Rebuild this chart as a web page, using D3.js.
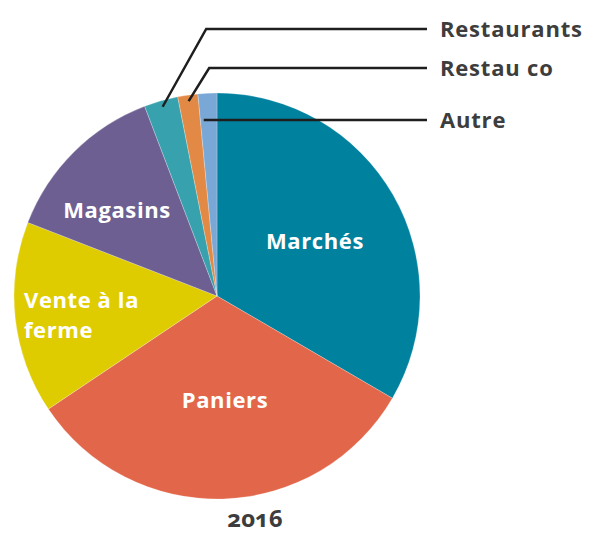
<!DOCTYPE html>
<meta charset="utf-8">
<script src="https://d3js.org/d3.v7.min.js"></script>
<style>
  body { margin: 0; background: #fff; }
  text { font-family: "Open Sans", sans-serif; font-weight: 700; }
</style>
<div id="my_dataviz"></div>
<script>
  // data (percent of sales)
  var categories = ["Marchés", "Paniers", "Vente à la ferme", "Magasins", "Restaurants", "Restau co", "Autre"];
  var values = [33.4, 32.2, 15.3, 13.3, 2.7, 1.6, 1.5];
  var colors = ["#00829f", "#e2674a", "#dfcc00", "#6d5f91", "#37a1ae", "#e28a45", "#7aa8d6"];
  var year = "2016";

  var width = 603, height = 535;
  var cx = 217, cy = 296, radius = 203;

  var svg = d3.select("#my_dataviz")
    .append("svg")
    .attr("width", width)
    .attr("height", height);

  var g = svg.append("g")
    .attr("transform", "translate(" + cx + "," + cy + ")");

  var data = categories.map(function (c, i) { return { key: c, value: values[i], color: colors[i] }; });

  var pie = d3.pie().sort(null).value(function (d) { return d.value; });
  var data_ready = pie(data);

  var arc = d3.arc().innerRadius(0).outerRadius(radius);

  g.selectAll("path")
    .data(data_ready)
    .enter()
    .append("path")
    .attr("d", arc)
    .attr("fill", function (d) { return d.data.color; })
    .attr("stroke", "#ffffff")
    .attr("stroke-opacity", 0.4)
    .attr("stroke-width", 0.6);

  // inside labels (lines, offset from centre)
  var inside = {
    "Marchés": { lines: ["Marchés"], x: 98, y: -55, anchor: "middle" },
    "Paniers": { lines: ["Paniers"], x: 8, y: 104, anchor: "middle" },
    "Vente à la ferme": { lines: ["Vente à la", "ferme"], x: -193, y: 4, anchor: "start" },
    "Magasins": { lines: ["Magasins"], x: -100, y: -86, anchor: "middle" }
  };

  data_ready.forEach(function (d) {
    var lab = inside[d.data.key];
    if (!lab) return;
    var t = g.append("text")
      .attr("fill", "#fff")
      .attr("font-size", 22)
      .attr("letter-spacing", 0.6)
      .attr("text-anchor", lab.anchor);
    lab.lines.forEach(function (ln, i) {
      t.append("tspan")
        .attr("x", lab.x)
        .attr("y", lab.y + i * 30 + 8)
        .text(ln);
    });
  });

  // outside labels with leader lines
  var labelX = 440, lineEnd = 427;
  var outside = { "Restaurants": 29, "Restau co": 68, "Autre": 120 };
  var inner = d3.arc().innerRadius(radius * 0.97).outerRadius(radius * 0.97);

  data_ready.forEach(function (d) {
    var ly = outside[d.data.key];
    if (ly === undefined) return;
    var p = inner.centroid(d);
    var ax = p[0] + cx, ay = p[1] + cy;
    var pts;
    if (d.data.key === "Autre") {
      pts = [[ax - 4, ly], [lineEnd, ly]];
    } else {
      // diagonal rises to the label row, then runs right
      var bx = ax + (ay - ly) * (d.data.key === "Restaurants" ? 0.56 : 0.62);
      pts = [[ax, ay], [bx, ly], [lineEnd, ly]];
    }
    svg.append("polyline")
      .attr("points", pts.map(function (q) { return q.join(","); }).join(" "))
      .attr("fill", "none")
      .attr("stroke", "#1e1e1e")
      .attr("stroke-width", 2.5);
    svg.append("text")
      .attr("x", labelX)
      .attr("y", ly + 8)
      .attr("fill", "#3d3d3d")
      .attr("font-size", 22)
      .attr("letter-spacing", 0.8)
      .text(d.data.key);
  });

  svg.append("text")
    .attr("x", 255)
    .attr("y", 527)
    .attr("text-anchor", "middle")
    .attr("fill", "#3d3d3d")
    .attr("font-size", 24)
    .style("font-feature-settings", "'onum' 1")
    .text(year);
</script>
